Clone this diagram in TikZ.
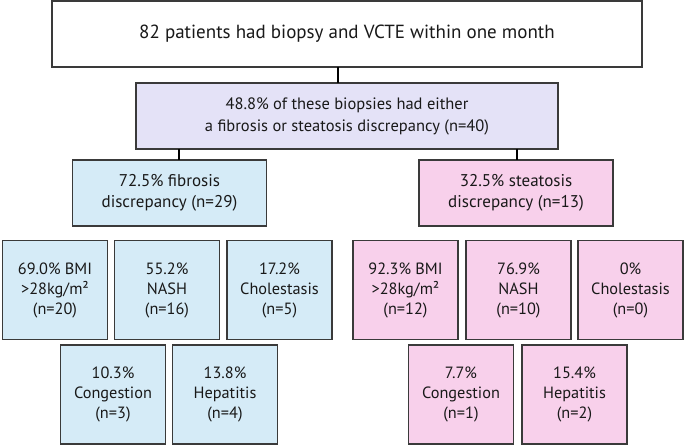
\documentclass[tikz,border=0pt]{standalone}
\usepackage{fontspec}
\setmainfont{PT Sans}
\definecolor{bordc}{HTML}{3A3A3A}
\definecolor{purp}{HTML}{E4E2F7}
\definecolor{blu}{HTML}{D5EBF7}
\definecolor{pnk}{HTML}{F8D0EB}
\begin{document}
\begin{tikzpicture}[x=1pt,y=-1pt,
  box/.style={draw=bordc,line width=1.1pt,rectangle,inner sep=0pt,outer sep=0pt,align=center,text=black!90},
  bigbox/.style={box,fill=white,minimum width=590pt,minimum height=66pt,font=\fontsize{19}{23}\selectfont},
  midbox/.style={box,fill=purp,minimum width=422pt,minimum height=66pt,font=\fontsize{16.5}{22}\selectfont},
  catbox/.style={box,minimum width=194pt,minimum height=66pt,font=\fontsize{17}{21}\selectfont},
  smallbox/.style={box,minimum width=105pt,minimum height=99pt,font=\fontsize{16.3}{20}\selectfont},
  conn/.style={draw=black,line width=2pt}]
\fill[white] (0,0) rectangle (685,446);
\useasboundingbox (0,0) rectangle (685,446);

\node[bigbox] (top) at (347,34) {82 patients had biopsy and VCTE within one month};
\node[midbox] (mid) at (347,116) {48.8\% of these biopsies had either\\a fibrosis or steatosis discrepancy (n=40)};
\node[catbox,fill=blu] (fib) at (169.5,193) {72.5\% fibrosis\\discrepancy (n=29)};
\node[catbox,fill=pnk] (ste) at (516,193) {32.5\% steatosis\\discrepancy (n=13)};

\node[smallbox,fill=blu] (fbmi) at (55,290) {69.0\% BMI\\>28kg/m²\\(n=20)};
\node[smallbox,fill=blu] (fnash) at (167,290) {55.2\%\\NASH\\(n=16)};
\node[smallbox,fill=blu] (fchol) at (279.5,290) {17.2\%\\Cholestasis\\(n=5)};
\node[smallbox,fill=blu] (fcong) at (113,394.5) {10.3\%\\Congestion\\(n=3)};
\node[smallbox,fill=blu] (fhep) at (225,394.5) {13.8\%\\Hepatitis\\(n=4)};

\node[smallbox,fill=pnk] (sbmi) at (405.5,290) {92.3\% BMI\\>28kg/m²\\(n=12)};
\node[smallbox,fill=pnk] (snash) at (518.5,290) {76.9\%\\NASH\\(n=10)};
\node[smallbox,fill=pnk] (schol) at (630.5,290) {0\%\\Cholestasis\\(n=0)};
\node[smallbox,fill=pnk] (scong) at (461,394.5) {7.7\%\\Congestion\\(n=1)};
\node[smallbox,fill=pnk] (shep) at (574.5,394.5) {15.4\%\\Hepatitis\\(n=2)};

\draw[conn] ([xshift=-9pt]top.south) -- ([xshift=-9pt]top.south |- mid.north);
\draw[conn] ([xshift=9.5pt]fib.north |- mid.south) -- ([xshift=9.5pt]fib.north);
\draw[conn] ([xshift=1pt]ste.north |- mid.south) -- ([xshift=1pt]ste.north);
\end{tikzpicture}
\end{document}
